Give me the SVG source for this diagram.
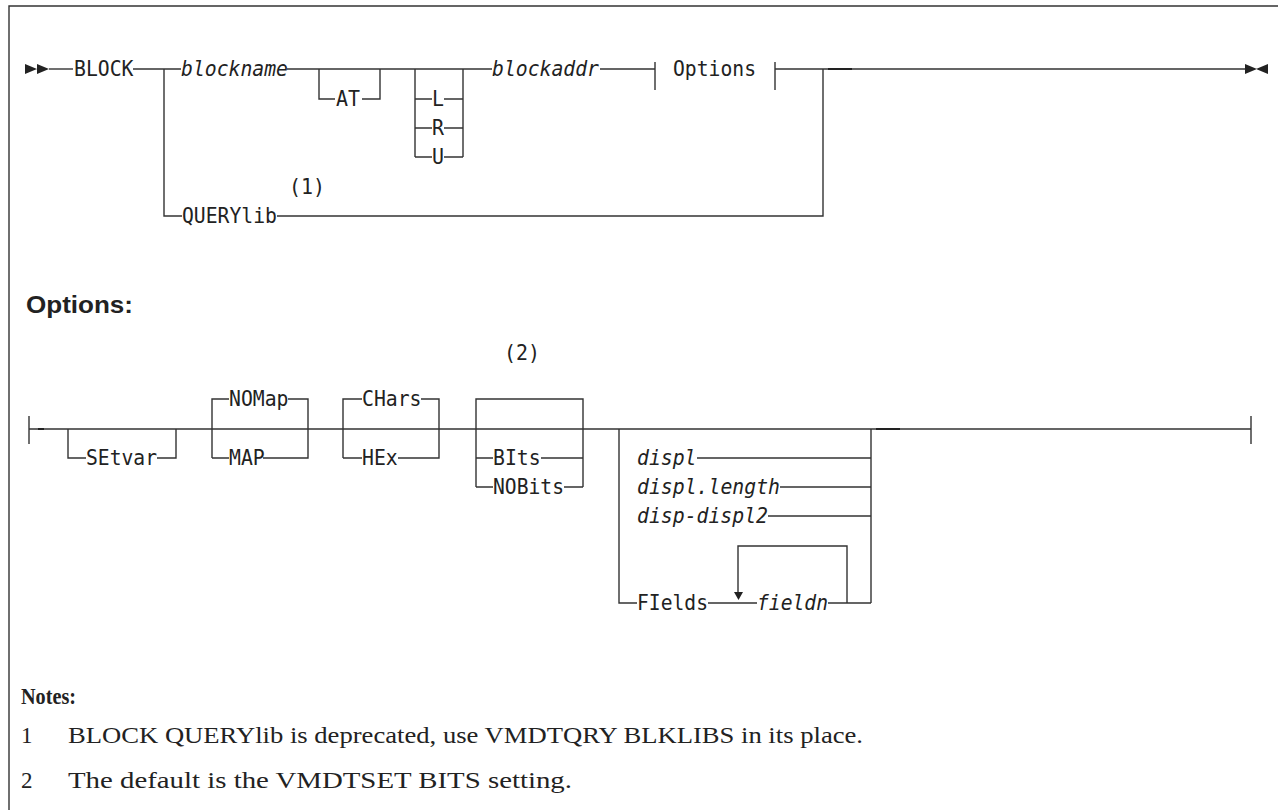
<svg xmlns="http://www.w3.org/2000/svg" width="1278" height="810" viewBox="0 0 1278 810">
<style>
.t{font-family:"DejaVu Sans Mono","Liberation Mono",monospace;font-size:21px;fill:#222}
.i{font-style:italic}
.ln{fill:none;stroke:#333;stroke-width:1.4}
.dk{fill:none;stroke:#222;stroke-width:2}
.ar{fill:#222}
.h{font-family:"Liberation Sans",Arial,sans-serif;font-weight:bold;font-size:24px;fill:#222}
.n{font-family:"Liberation Serif","Times New Roman",serif;font-size:23px;fill:#222}
.nb{font-family:"Liberation Serif","Times New Roman",serif;font-size:23px;font-weight:bold;fill:#222}
</style>
<rect width="1278" height="810" fill="#fff"/>
<g id="frame"><path class="ln" d="M9,810 V6 H1278" stroke="#555"/></g>

<g id="connectors">
  <!-- top diagram -->
  <path class="ln" d="M49,69 H73"/>
  <path class="ln" d="M133,69 H181"/>
  <path class="ln" d="M164,69 V216 H182"/>
  <path class="ln" d="M287,69 H492"/>
  <path class="ln" d="M319,69 V99 H335 M362,99 H380 V69"/>
  <path class="ln" d="M415,69 V157 M463,69 V157"/>
  <path class="ln" d="M415,99 H432 M444,99 H463 M415,128 H432 M444,128 H463 M415,157 H432 M444,157 H463"/>
  <path class="ln" d="M600,69 H655 M655,62 V90 M775,62 V90 M775,69 H823"/>
  <path class="ln" d="M277,216 H823 V69 M823,69 H1246"/>
  <path class="dk" d="M828,69 H852"/>
  <!-- options diagram -->
  <path class="ln" d="M29,416 V444 M29,429 H1251 M1251,416 V444"/>
  <path class="dk" d="M38,429 H44 M876,429 H900"/>
  <path class="ln" d="M68,429 V458 H86 M157,458 H176 V429"/>
  <path class="ln" d="M212,458 V399 H229 M288,399 H308 V458 H263 M212,458 H229"/>
  <path class="ln" d="M343,458 V399 H362 M421,399 H439 V458 H398 M343,458 H362"/>
  <path class="ln" d="M476,487 V399 H583 V487 M476,458 H493 M541,458 H583 M476,487 H493 M564,487 H583"/>
  <path class="ln" d="M619,429 V603 H637 M871,429 V603"/>
  <path class="ln" d="M697,458 H871 M780,487 H871 M768,516 H871 M708,603 H757 M828,603 H871"/>
  <path class="ln" d="M847,603 V546 H738 V592"/>
  <path class="ar" d="M734,592 H743 L738.5,600 Z"/>
  <path class="ar" d="M25,64 L37,69 L25,74 Z M37,64 L49,69 L37,74 Z"/>
  <path class="ar" d="M1245,64 L1257,69 L1245,74 Z M1268,64 L1256,69 L1268,74 Z"/>
</g>

<g id="n-block"><text class="t" x="74" y="76" textLength="59.5" lengthAdjust="spacingAndGlyphs">BLOCK</text></g>
<g id="n-blockname"><text class="t i" x="181" y="76" textLength="107" lengthAdjust="spacingAndGlyphs">blockname</text></g>
<g id="n-at"><text class="t" x="336" y="106" textLength="24" lengthAdjust="spacingAndGlyphs">AT</text></g>
<g id="n-l"><text class="t" x="432" y="106" textLength="12" lengthAdjust="spacingAndGlyphs">L</text></g>
<g id="n-r"><text class="t" x="432" y="135" textLength="12" lengthAdjust="spacingAndGlyphs">R</text></g>
<g id="n-u"><text class="t" x="432" y="164" textLength="12" lengthAdjust="spacingAndGlyphs">U</text></g>
<g id="n-blockaddr"><text class="t i" x="492" y="76" textLength="107" lengthAdjust="spacingAndGlyphs">blockaddr</text></g>
<g id="n-options-ref"><text class="t" x="673" y="76" textLength="83" lengthAdjust="spacingAndGlyphs">Options</text></g>
<g id="n-querylib"><text class="t" x="182" y="223" textLength="95" lengthAdjust="spacingAndGlyphs">QUERYlib</text>
<text class="t" x="289" y="194" textLength="36" lengthAdjust="spacingAndGlyphs">(1)</text></g>

<g id="n-options-title"><text class="h" x="26" y="313" textLength="107" lengthAdjust="spacingAndGlyphs">Options:</text></g>

<g id="n-setvar"><text class="t" x="86" y="465" textLength="71" lengthAdjust="spacingAndGlyphs">SEtvar</text></g>
<g id="n-nomap"><text class="t" x="229" y="406" textLength="59.5" lengthAdjust="spacingAndGlyphs">NOMap</text></g>
<g id="n-map"><text class="t" x="229" y="465" textLength="35.7" lengthAdjust="spacingAndGlyphs">MAP</text></g>
<g id="n-chars"><text class="t" x="362" y="406" textLength="59.5" lengthAdjust="spacingAndGlyphs">CHars</text></g>
<g id="n-hex"><text class="t" x="362" y="465" textLength="35.7" lengthAdjust="spacingAndGlyphs">HEx</text></g>
<g id="n-note2ref"><text class="t" x="504" y="360" textLength="36" lengthAdjust="spacingAndGlyphs">(2)</text></g>
<g id="n-bits"><text class="t" x="493" y="465" textLength="47.6" lengthAdjust="spacingAndGlyphs">BIts</text></g>
<g id="n-nobits"><text class="t" x="493" y="494" textLength="71" lengthAdjust="spacingAndGlyphs">NOBits</text></g>
<g id="n-displ"><text class="t i" x="637" y="465" textLength="59.5" lengthAdjust="spacingAndGlyphs">displ</text></g>
<g id="n-displlength"><text class="t i" x="637" y="494" textLength="143" lengthAdjust="spacingAndGlyphs">displ.length</text></g>
<g id="n-dispdispl2"><text class="t i" x="637" y="523" textLength="131" lengthAdjust="spacingAndGlyphs">disp-displ2</text></g>
<g id="n-fields"><text class="t" x="637" y="610" textLength="71" lengthAdjust="spacingAndGlyphs">FIelds</text></g>
<g id="n-fieldn"><text class="t i" x="757" y="610" textLength="71" lengthAdjust="spacingAndGlyphs">fieldn</text></g>

<g id="notes">
<text class="nb" x="21" y="704" textLength="55" lengthAdjust="spacingAndGlyphs">Notes:</text>
<text class="n" x="21" y="743">1</text>
<text class="n" x="68" y="743" textLength="795" lengthAdjust="spacingAndGlyphs">BLOCK QUERYlib is deprecated, use VMDTQRY BLKLIBS in its place.</text>
<text class="n" x="21" y="788">2</text>
<text class="n" x="68" y="788" textLength="504" lengthAdjust="spacingAndGlyphs">The default is the VMDTSET BITS setting.</text>
</g>
</svg>
